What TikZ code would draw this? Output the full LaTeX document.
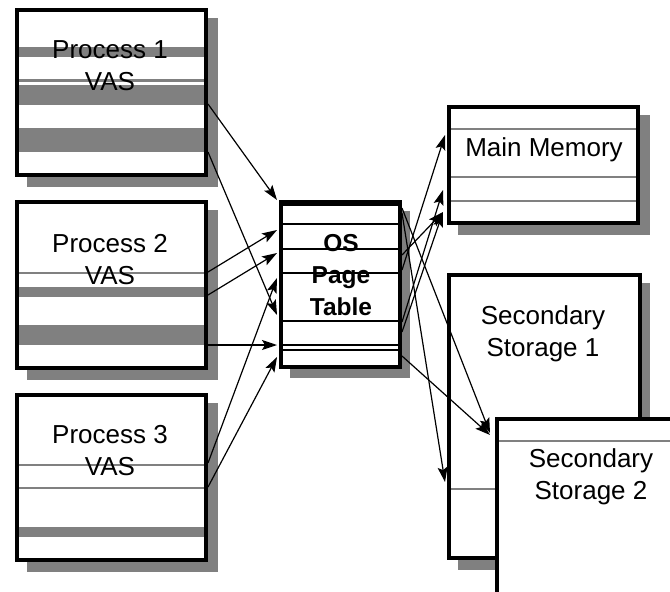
\documentclass[tikz,border=0pt]{standalone}
\usepackage{fontspec}
\setmainfont{Liberation Sans}
\usetikzlibrary{arrows.meta}
\definecolor{shade}{HTML}{808080}
\tikzset{
  shadowbox/.style={fill=shade, draw=none},
  mainbox/.style={draw=black, line width=4pt, fill=white, rectangle, inner sep=0pt, outer sep=0pt},
  ptbox/.style={draw=black, line width=3.5pt, fill=white, rectangle, inner sep=0pt, outer sep=0pt},
  band/.style={fill=shade, draw=none},
  thinline/.style={draw=shade, line width=2.2pt},
  rowline/.style={draw=black, line width=2.2pt},
  lbl/.style={font=\fontsize{26}{32}\selectfont, align=center, inner sep=0pt},
  ptlbl/.style={font=\fontsize{24.5}{32}\selectfont\bfseries, align=center, inner sep=0pt},
  link/.style={line width=1.2pt, -{Stealth[length=15pt,width=10pt,inset=3pt]}},
}
\begin{document}
\begin{tikzpicture}[x=1pt,y=-1pt]
\useasboundingbox (0,0) rectangle (670,592);
% ---------- shadows ----------
\fill[shadowbox] (27,18) rectangle (218,187);
\fill[shadowbox] (27,210) rectangle (218,380);
\fill[shadowbox] (27,403) rectangle (218,572);
\fill[shadowbox] (290,211) rectangle (410,378);
\fill[shadowbox] (458,115) rectangle (650,235);
\fill[shadowbox] (458,283) rectangle (650,570);
% ---------- process boxes ----------
\node[mainbox, minimum width=189pt, minimum height=165pt] (p1) at (111.5,92.5) {};
\fill[band] (19,47) rectangle (204,57);
\draw[thinline] (19,80.5) -- (204,80.5);
\fill[band] (19,85) rectangle (204,105);
\fill[band] (19,128) rectangle (204,152);
\node[lbl] (p1t) at (110,65.5) {Process 1\\VAS};

\node[mainbox, minimum width=189pt, minimum height=166pt] (p2) at (111.5,285) {};
\draw[thinline] (19,273) -- (204,273);
\fill[band] (19,287) rectangle (204,297);
\fill[band] (19,325) rectangle (204,345);
\node[lbl] (p2t) at (110,259.5) {Process 2\\VAS};

\node[mainbox, minimum width=189pt, minimum height=165pt] (p3) at (111.5,477.5) {};
\draw[thinline] (19,465) -- (204,465);
\draw[thinline] (19,488) -- (204,488);
\fill[band] (19,527) rectangle (204,537);
\node[lbl] (p3t) at (110,451) {Process 3\\VAS};
% ---------- page table ----------
\node[ptbox, minimum width=119pt, minimum height=165pt] (pt) at (340.5,284.5) {};
\foreach \yy in {205,224,249,273,321,345,350}
  \draw[rowline] (282.5,\yy) -- (398.5,\yy);
\node[ptlbl] (ptt) at (341,275) {OS\\Page\\Table};
% ---------- main memory ----------
\node[mainbox, minimum width=189pt, minimum height=116pt] (mm) at (543.5,165) {};
\draw[thinline] (451,129) -- (636,129);
\draw[thinline] (451,177) -- (636,177);
\draw[thinline] (451,201) -- (636,201);
\node[lbl] (mmt) at (544,150) {Main Memory};
% ---------- secondary storage 1 ----------
\node[mainbox, minimum width=191pt, minimum height=283pt] (ss1) at (544.5,416.5) {};
\draw[thinline] (451,489) -- (497,489);
\node[lbl] (ss1t) at (543,333.8) {Secondary\\Storage 1};
% ---------- secondary storage 2 ----------
\node[mainbox, minimum width=200pt, minimum height=200pt, anchor=north west] (ss2) at (497,419) {};
\draw[thinline] (499,441) -- (672,441);
\node[lbl] (ss2t) at (591,476.8) {Secondary\\Storage 2};
% ---------- connector ends ----------
\coordinate (a1s) at (208,104);  \coordinate (a1e) at (277,200);
\coordinate (a2s) at (208,152);  \coordinate (a2e) at (277,315);
\coordinate (a3s) at (208,272);  \coordinate (a3e) at (277,230);
\coordinate (a4s) at (208,295);  \coordinate (a4e) at (277,253);
\coordinate (a5s) at (208,345);  \coordinate (a5e) at (277,345);
\coordinate (a6s) at (208,463);  \coordinate (a6e) at (277,278);
\coordinate (a7s) at (208,487);  \coordinate (a7e) at (277,357);
\coordinate (b1s) at (402,270);  \coordinate (b1e) at (445,135);
\coordinate (b2s) at (402,322);  \coordinate (b2e) at (443,190);
\coordinate (b3s) at (402,332);  \coordinate (b3e) at (443,212);
\coordinate (b4s) at (402,255);  \coordinate (b4e) at (443,212);
\coordinate (b5s) at (402,208);  \coordinate (b5e) at (490,433);
\coordinate (b6s) at (402,213);  \coordinate (b6e) at (445,482);
\coordinate (b7s) at (402,356);  \coordinate (b7e) at (490,435);
% ---------- connectors ----------
\foreach \c in {a1,a2,a3,a4,a5,a6,a7,b1,b2,b3,b4,b5,b6,b7}
  \draw[link] (\c s) -- (\c e);
\end{tikzpicture}
\end{document}
